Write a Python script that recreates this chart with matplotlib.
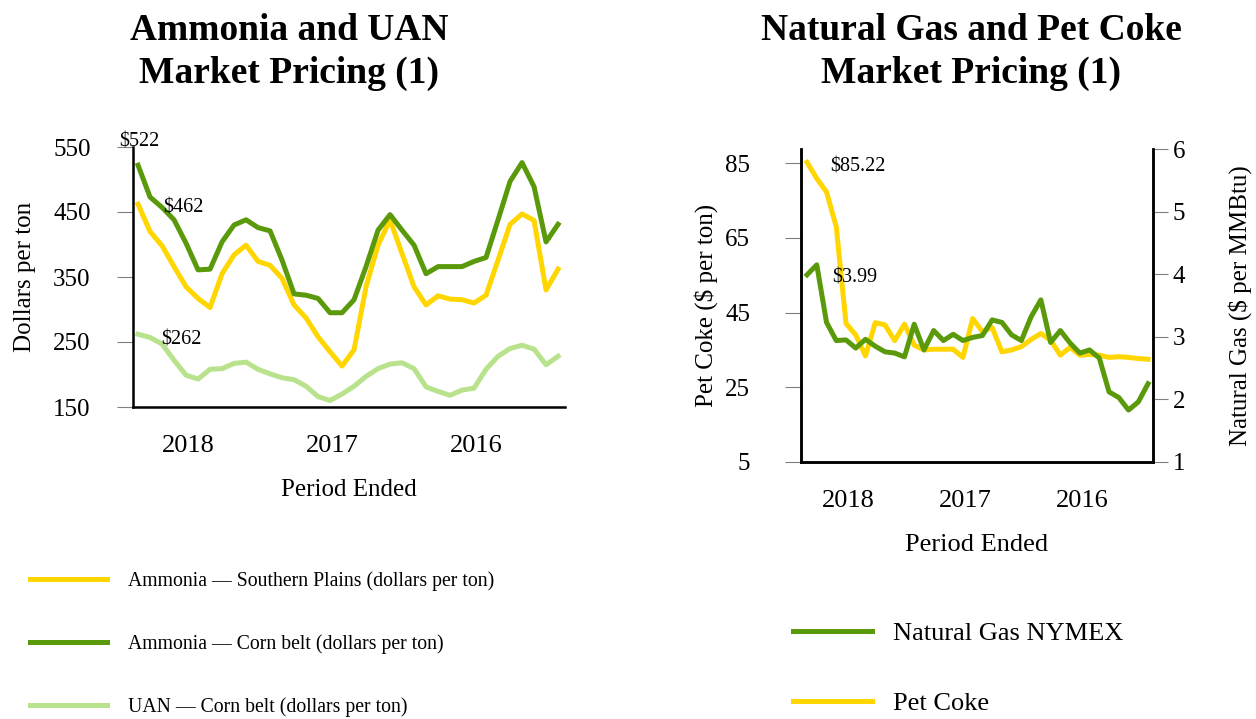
import numpy as np
import matplotlib
matplotlib.use("Agg")
import matplotlib.pyplot as plt

plt.rcParams['font.family'] = ['Liberation Serif', 'DejaVu Serif']

# monthly points, most recent first
amm_sp = [462, 420, 398, 366, 335, 317, 303, 355, 384, 399, 374, 368, 348, 307, 287, 258, 235, 213,
          238, 335, 399, 438, 386, 335, 307, 321, 316, 315, 310, 322, 376, 431, 447, 437, 330, 362]
amm_cb = [522, 473, 457, 438, 402, 361, 362, 404, 430, 438, 426, 421, 376, 324, 322, 317, 295, 295,
          315, 366, 422, 446, 422, 399, 355, 366, 366, 366, 374, 380, 438, 497, 526, 489, 404, 431]
uan_cb = [262, 257, 247, 222, 199, 193, 208, 209, 217, 219, 208, 201, 195, 192, 182, 166, 160, 170,
          182, 197, 209, 216, 218, 209, 181, 174, 168, 176, 179, 208, 228, 240, 245, 239, 215, 228]

nat_gas = [3.99, 4.15, 3.23, 2.94, 2.95, 2.82, 2.96, 2.85, 2.76, 2.74, 2.68, 3.20, 2.79, 3.10, 2.94, 3.04,
           2.94, 2.99, 3.02, 3.27, 3.23, 3.03, 2.94, 3.32, 3.59, 2.91, 3.10, 2.90, 2.74, 2.79, 2.66, 2.12,
           2.03, 1.83, 1.96, 2.25]
pet_coke = [85.22, 80.9, 77.3, 68.0, 42.1, 39.0, 33.4, 42.3, 41.7, 37.5, 41.9, 36.3, 35.0, 35.2, 35.2, 35.2,
            33.0, 43.4, 39.9, 41.0, 34.5, 35.0, 35.9, 37.8, 39.4, 37.6, 33.6, 35.7, 33.6, 33.8, 33.6, 33.0,
            33.2, 33.0, 32.7, 32.5]

year_labels = ['2018', '2017', '2016']
year_pos = [4.2, 16.2, 28.2]

YELLOW = '#ffd600'
GREEN = '#5a9a0a'
LGREEN = '#b8e38c'
TICKC = '#808080'

fig = plt.figure(figsize=(12.56, 7.19), dpi=100)

# ---- left panel
ax = fig.add_axes([133/1256, 1-407/719, 432/1256, 260/719])
x = np.arange(len(amm_sp))
ax.plot(x, amm_sp, color=YELLOW, lw=3.6, label='Ammonia \u2014 Southern Plains (dollars per ton)')
ax.plot(x, amm_cb, color=GREEN, lw=3.6, label='Ammonia \u2014 Corn belt (dollars per ton)')
ax.plot(x, uan_cb, color=LGREEN, lw=3.6, label='UAN \u2014 Corn belt (dollars per ton)')
ax.set_xlim(-0.42, 35.58)
ax.set_ylim(150, 550)
ax.set_yticks([150, 250, 350, 450, 550])
ax.set_xticks(year_pos)
ax.set_xticklabels(year_labels)
for s in ['top', 'right']:
    ax.spines[s].set_visible(False)
for s in ['left', 'bottom']:
    ax.spines[s].set_linewidth(1.8)
ax.tick_params(axis='y', length=11.5, width=0.8, color=TICKC, pad=19, labelsize=18)
ax.tick_params(axis='x', length=0, pad=20, labelsize=19)
ax.set_ylabel('Dollars per ton', fontsize=18, labelpad=12)
ax.set_xlabel('Period Ended', fontsize=18, labelpad=16)

ax.annotate(r'\$522', xy=(0, amm_cb[0]), xytext=(0.7, 17), textcoords='offset points',
            ha='center', va='center', fontsize=14.5)
ax.annotate(r'\$462', xy=(0, amm_sp[0]), xytext=(18, -3), textcoords='offset points',
            ha='left', va='center', fontsize=14.5)
ax.annotate(r'\$262', xy=(0, uan_cb[0]), xytext=(17, -4), textcoords='offset points',
            ha='left', va='center', fontsize=14.5)

fig.legend(*ax.get_legend_handles_labels(), loc='upper left', bbox_to_anchor=(30/1256, 1-571/719),
           frameon=False, fontsize=14.2, handlelength=3.9, handletextpad=1.05, labelspacing=2.2,
           borderpad=0, borderaxespad=0)

# ---- right panel
ax2 = fig.add_axes([801/1256, 1-462/719, 352/1256, 313/719])
x2 = np.arange(len(pet_coke))
axr = ax2.twinx()
lc, = ax2.plot(x2, pet_coke, color=YELLOW, lw=3.6, label='Pet Coke')
lg, = axr.plot(x2, nat_gas, color=GREEN, lw=3.6, label='Natural Gas NYMEX')
ax2.set_xlim(-0.62, 35.51)
ax2.set_ylim(5, 88.8)
ax2.set_yticks([5, 25, 45, 65, 85])
axr.set_ylim(1, 6)
axr.set_yticks([1, 2, 3, 4, 5, 6])
ax2.set_xticks(year_pos)
ax2.set_xticklabels(year_labels)
for a in (ax2, axr):
    a.spines['top'].set_visible(False)
    for s in ['left', 'bottom', 'right']:
        a.spines[s].set_linewidth(1.8)
ax2.tick_params(axis='y', length=11.5, width=0.8, color=TICKC, pad=25, labelsize=18)
axr.tick_params(axis='y', length=11, width=0.8, color=TICKC, pad=3, labelsize=18)
ax2.tick_params(axis='x', length=0, pad=20, labelsize=19)
ax2.set_ylabel('Pet Coke ($ per ton)', fontsize=18, labelpad=5)
axr.set_ylabel('Natural Gas ($ per MMBtu)', fontsize=18, labelpad=31)
ax2.set_xlabel('Period Ended', fontsize=19, labelpad=16)

ax2.annotate(r'\$85.22', xy=(0, pet_coke[0]), xytext=(16.5, -3), textcoords='offset points',
             ha='left', va='center', fontsize=14.5)
axr.annotate(r'\$3.99', xy=(0, nat_gas[0]), xytext=(18, -2), textcoords='offset points',
             ha='left', va='center', fontsize=14.5)

fig.legend([lg, lc], ['Natural Gas NYMEX', 'Pet Coke'], loc='upper left',
           bbox_to_anchor=(793/1256, 1-622/719), frameon=False, fontsize=19, handlelength=3.0,
           handletextpad=0.8, labelspacing=1.75, borderpad=0, borderaxespad=0)

# titles
fig.text(289/1256, 1-52/719, 'Ammonia and UAN\nMarket Pricing (1)', ha='center', va='center',
         fontsize=27, fontweight='bold', linespacing=1.3)
fig.text(971/1256, 1-52/719, 'Natural Gas and Pet Coke\nMarket Pricing (1)', ha='center', va='center',
         fontsize=27, fontweight='bold', linespacing=1.3)

fig.savefig('out.png', dpi=100)
